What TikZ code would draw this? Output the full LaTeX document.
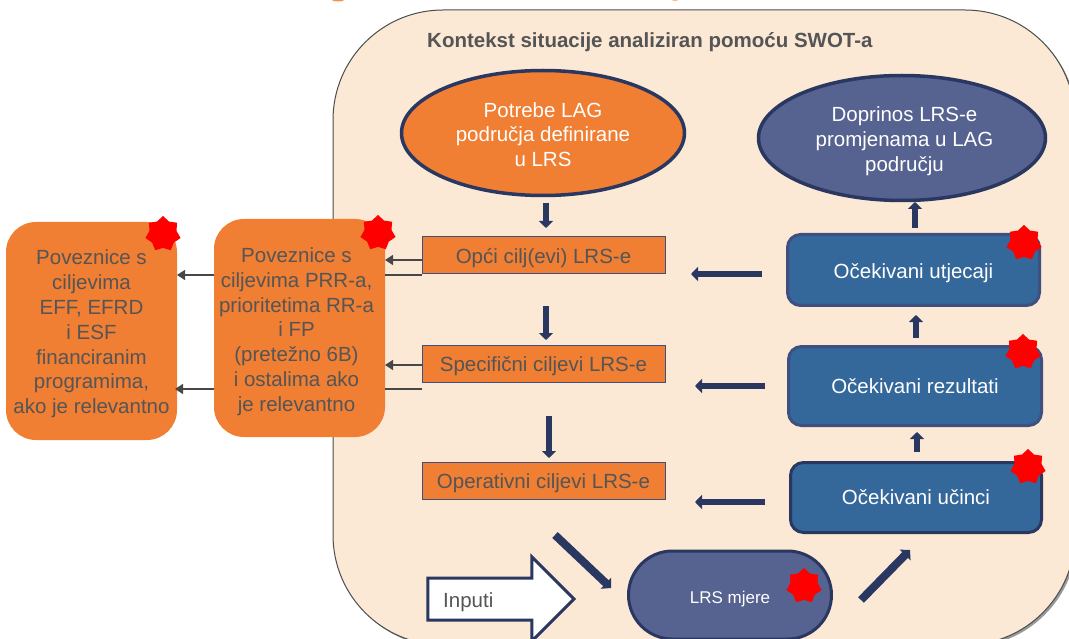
\documentclass[tikz,border=0pt]{standalone}
\usepackage{fontspec}
\setmainfont{Liberation Sans}
\usetikzlibrary{shapes.geometric,arrows.meta,shapes.arrows}
\definecolor{txt}{HTML}{555555}
\definecolor{orng}{HTML}{F07E33}
\definecolor{cream}{HTML}{FBE9D5}
\definecolor{navy}{HTML}{2A3760}
\definecolor{slate}{HTML}{56628F}
\definecolor{bluebox}{HTML}{34679A}
\definecolor{edgeblue}{HTML}{3F4F80}
\tikzset{
 x=1pt,y=-1pt,
 frame/.style={draw=black!70,line width=1pt,fill=cream,rounded corners=110pt},
 blocktext/.style={inner sep=0pt,font=\fontsize{20.5}{24.8}\selectfont,align=center},
 sidebox/.style={fill=orng,rounded corners=30pt,inner sep=0pt,minimum width=171pt,minimum height=218pt},
 goalbox/.style={fill=orng,draw=edgeblue,line width=1pt,minimum width=243pt,minimum height=37pt,inner sep=0pt,text=txt,text height=16pt,text depth=0pt,font=\fontsize{20.5}{24}\selectfont},
 oval/.style={ellipse,line width=3.5pt,inner sep=0pt},
 effect/.style={fill=bluebox,draw=edgeblue,line width=3pt,rounded corners=13pt,inner sep=0pt,text=white,text depth=0pt,font=\fontsize{20.5}{24}\selectfont},
 burst/.style={star,star points=7,star point ratio=1.3,fill=red,inner sep=0pt,minimum size=36pt},
 thinarr/.style={draw=black!72,line width=1.5pt,-{Triangle[length=8pt,width=10pt]}},
 thinline/.style={draw=black!72,line width=1.5pt},
 flow/.style={draw=navy,line width=6.5pt,-{Triangle[length=7pt,width=14pt]}},
 diagflow/.style={draw=navy,line width=8pt,-{Triangle[length=7pt,width=15pt]}},
}
\begin{document}
\begin{tikzpicture}
\useasboundingbox (0,0) rectangle (1069,639);
\begin{scope}
\clip (0,0) rectangle (1069,639);
\fill[orng!85] (338,0) ellipse [x radius=6pt,y radius=1.5pt];
\fill[orng!50] (675,0) ellipse [x radius=3pt,y radius=1.2pt];
\fill[black!40,rounded corners=110pt] (335,12) rectangle (1077,647);
\draw[frame] (333,10) rectangle (1075,645);
\node[anchor=base west,inner sep=0pt,text=txt,font=\bfseries\fontsize{20.5}{24}\selectfont] (title) at (427,48) {Kontekst situacije analiziran pomoću SWOT-a};

\node[sidebox,label={[blocktext,text=txt,yshift=-3pt]center:{Poveznice s\\ciljevima\\EFF, EFRD\\i ESF\\financiranim\\programima,\\ako je relevantno}}] (far) at (91.5,331) {};
\node[sidebox,label={[blocktext,text=txt,xshift=-3pt,yshift=-3.5pt]center:{Poveznice s\\ciljevima PRR-a,\\prioritetima RR-a\\i FP\\(pretežno 6B)\\i ostalima ako\\je relevantno}}] (link) at (299.5,328) {};

\node[oval,fill=orng,draw=navy,minimum width=283pt,minimum height=125pt,label={[blocktext,text=white,yshift=-1.5pt]center:{Potrebe LAG\\područja definirane\\u LRS}}] (need) at (543,133) {};
\node[oval,fill=slate,draw=navy,minimum width=287pt,minimum height=125pt,label={[blocktext,text=white,xshift=2.5pt,yshift=-3pt]center:{Doprinos LRS-e\\promjenama u LAG\\području}}] (contrib) at (902,138) {};

\node[goalbox] (g1) at (543.5,255.5) {Opći cilj(evi) LRS-e};
\node[goalbox] (g2) at (543.5,363.5) {Specifični ciljevi LRS-e};
\node[goalbox] (g3) at (543.5,480.5) {Operativni ciljevi LRS-e};

\node[effect,text height=16.5pt,minimum width=252pt,minimum height=71pt] (e1) at (913.5,270) {Očekivani utjecaji};
\node[effect,text height=15pt,minimum width=253pt,minimum height=79pt] (e2) at (915,386) {Očekivani rezultati};
\node[effect,text height=13pt,draw=navy,minimum width=251pt,minimum height=70pt] (e3) at (916,497.5) {Očekivani učinci};

\node[fill=slate,draw=navy,line width=3pt,rounded corners=44pt,minimum width=203pt,minimum height=88pt,inner sep=0pt,text=white,text height=16pt,text depth=0pt,font=\fontsize{17}{20}\selectfont] (mjere) at (730,595) {LRS mjere};

\node[single arrow,draw=navy,fill=white,line width=3pt,inner sep=0pt,text height=19.5pt,text depth=19.5pt,minimum height=146pt,single arrow head extend=21pt,single arrow tip angle=90,anchor=tip] (inp) at (576,599) {};
\node[anchor=base west,text=txt,inner sep=0pt,font=\fontsize{20.5}{24}\selectfont] (inptxt) at (443,607) {Inputi};

\node[burst] (s1) at (163,234) {};
\node[burst] (s2) at (378,233) {};
\node[burst] (s3) at (1024,243) {};
\node[burst] (s4) at (1023,352) {};
\node[burst] (s5) at (1028,467) {};
\node[burst] (s6) at (804,586) {};

\coordinate (a1) at (214,275); \coordinate (a2) at (177,275);
\coordinate (b1) at (214,389); \coordinate (b2) at (175,389);
\coordinate (c1) at (422,260); \coordinate (c2) at (385,260);
\coordinate (d1) at (422,275); \coordinate (d2) at (385,275);
\coordinate (f1) at (422,365); \coordinate (f2) at (385,365);
\coordinate (h1) at (422,389); \coordinate (h2) at (385,389);
\draw[thinarr] (a1) -- (a2);
\draw[thinarr] (b1) -- (b2);
\draw[thinarr] (c1) -- (c2);
\draw[thinline] (d1) -- (d2);
\draw[thinarr] (f1) -- (f2);
\draw[thinline] (h1) -- (h2);

\coordinate (p1) at (546,203); \coordinate (p2) at (546,228);
\coordinate (p3) at (546,306); \coordinate (p4) at (546,340);
\coordinate (p5) at (549,416); \coordinate (p6) at (549,458);
\draw[flow] (p1) -- (p2);
\draw[flow] (p3) -- (p4);
\draw[flow] (p5) -- (p6);

\coordinate (q1) at (762,274); \coordinate (q2) at (691,274);
\coordinate (q3) at (765,386); \coordinate (q4) at (695,386);
\coordinate (q5) at (765,502); \coordinate (q6) at (695,502);
\draw[flow] (q1) -- (q2);
\draw[flow] (q3) -- (q4);
\draw[flow] (q5) -- (q6);

\coordinate (r1) at (915,228); \coordinate (r2) at (915,202);
\coordinate (r3) at (916,338); \coordinate (r4) at (916,315);
\coordinate (r5) at (917,452); \coordinate (r6) at (917,432);
\draw[flow] (r1) -- (r2);
\draw[flow] (r3) -- (r4);
\draw[flow] (r5) -- (r6);

\coordinate (t1) at (555,535); \coordinate (t2) at (611,588);
\coordinate (t3) at (861,600); \coordinate (t4) at (910,550);
\draw[diagflow] (t1) -- (t2);
\draw[diagflow] (t3) -- (t4);
\end{scope}
\end{tikzpicture}
\end{document}
